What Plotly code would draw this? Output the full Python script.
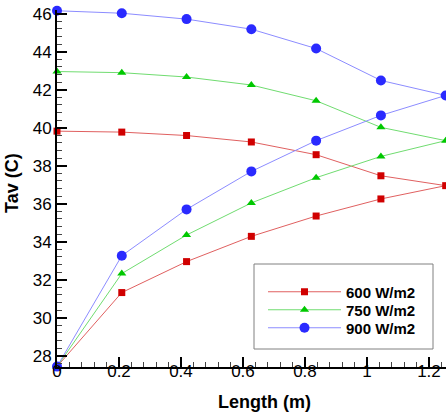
import plotly.graph_objects as go

# Data
length = [0.0, 0.209, 0.418, 0.627, 0.836, 1.045, 1.254]

# outlet-side (upper) and inlet-side (lower) branches for each irradiance
upper_600 = [39.82, 39.77, 39.59, 39.25, 38.58, 37.47, 36.95]
lower_600 = [27.42, 31.32, 32.95, 34.28, 35.35, 36.25, 36.95]
upper_750 = [42.96, 42.90, 42.67, 42.25, 41.42, 40.02, 39.32]
lower_750 = [27.42, 32.32, 34.35, 36.04, 37.37, 38.49, 39.32]
upper_900 = [46.16, 46.03, 45.72, 45.19, 44.17, 42.49, 41.70]
lower_900 = [27.42, 33.26, 35.70, 37.70, 39.32, 40.65, 41.70]

names = ["600 W/m2", "750 W/m2", "900 W/m2"]
y_ticks = [28, 30, 32, 34, 36, 38, 40, 42, 44, 46]
x_ticks = [0, 0.2, 0.4, 0.6, 0.8, 1.0, 1.2]
x_tick_text = ["0", "0.2", "0.4", "0.6", "0.8", "1", "1.2"]

series = [
    (names[0], upper_600, lower_600, "#e06060", "#d00000", "square", 7, "legend"),
    (names[1], upper_750, lower_750, "#70dc70", "#00c800", "triangle-up", 8, "legend2"),
    (names[2], upper_900, lower_900, "#8c8cff", "#2a2aff", "circle", 10, "legend3"),
]

fig = go.Figure()
for name, up, lo, lc, mc, sym, ms, lg in series:
    xs = length + length[::-1][1:]
    ys = up + lo[::-1][1:]
    fig.add_trace(go.Scatter(
        x=xs, y=ys, mode="lines+markers", name=name, legend=lg,
        line=dict(color=lc, width=1),
        marker=dict(color=mc, symbol=sym, size=ms, line=dict(width=0)),
        cliponaxis=False,
    ))

axis_font = dict(family="Arial, Liberation Sans, sans-serif", size=17, color="black")
legend_font = dict(family="Arial, Liberation Sans, sans-serif", size=15, color="black", weight="bold")


def leg(ypix):
    return dict(
        x=(263 - 57) / 389, xanchor="left",
        y=(367 - ypix) / 357, yanchor="middle",
        bgcolor="rgba(0,0,0,0)", borderwidth=0,
        font=legend_font, itemwidth=73,
    )


fig.update_layout(
    width=446, height=415,
    margin=dict(l=57, r=0, t=10, b=48, autoexpand=False),
    paper_bgcolor="white", plot_bgcolor="white",
    showlegend=True,
    legend=leg(292), legend2=leg(310), legend3=leg(328),
    xaxis=dict(
        range=[0, 1.255], tickvals=x_ticks, ticktext=x_tick_text, automargin=False,
        showgrid=False, zeroline=False, showline=True, linecolor="black", linewidth=2,
        ticks="inside", ticklen=10, tickwidth=2, tickcolor="black",
        minor=dict(dtick=0.04, tick0=0, ticks="inside", ticklen=5, tickwidth=1, tickcolor="#444"),
        tickfont=axis_font, ticklabelstandoff=-12,
    ),
    yaxis=dict(
        range=[27.4, 46.2], tickvals=y_ticks, automargin=False,
        showgrid=False, zeroline=False, showline=True, linecolor="black", linewidth=2,
        ticks="inside", ticklen=10, tickwidth=2, tickcolor="black",
        minor=dict(dtick=0.4, tick0=28, ticks="inside", ticklen=5, tickwidth=1, tickcolor="#444"),
        tickfont=axis_font,
    ),
    shapes=[dict(type="rect", xref="paper", yref="paper",
                 x0=(254 - 57) / 389, x1=(433 - 57) / 389,
                 y0=(367 - 349) / 357, y1=(367 - 264) / 357,
                 line=dict(color="#808080", width=1), fillcolor="rgba(0,0,0,0)", layer="above")],
    annotations=[
        dict(text="<b>Length (m)</b>", xref="paper", yref="paper",
             x=(264 - 57) / 389, y=-(402 - 367) / 357, xanchor="center", yanchor="middle",
             showarrow=False, font=dict(family="Arial, Liberation Sans, sans-serif", size=18, color="black")),
        dict(text="<b>Tav (C)</b>", xref="paper", yref="paper", textangle=-90,
             x=(12 - 57) / 389, y=(367 - 183) / 357, xanchor="center", yanchor="middle",
             showarrow=False, font=dict(family="Arial, Liberation Sans, sans-serif", size=18, color="black")),
    ],
)

fig.write_html("out.html", config={"displayModeBar": False},
               post_script="document.body.style.margin='0';document.body.style.overflow='hidden';")
